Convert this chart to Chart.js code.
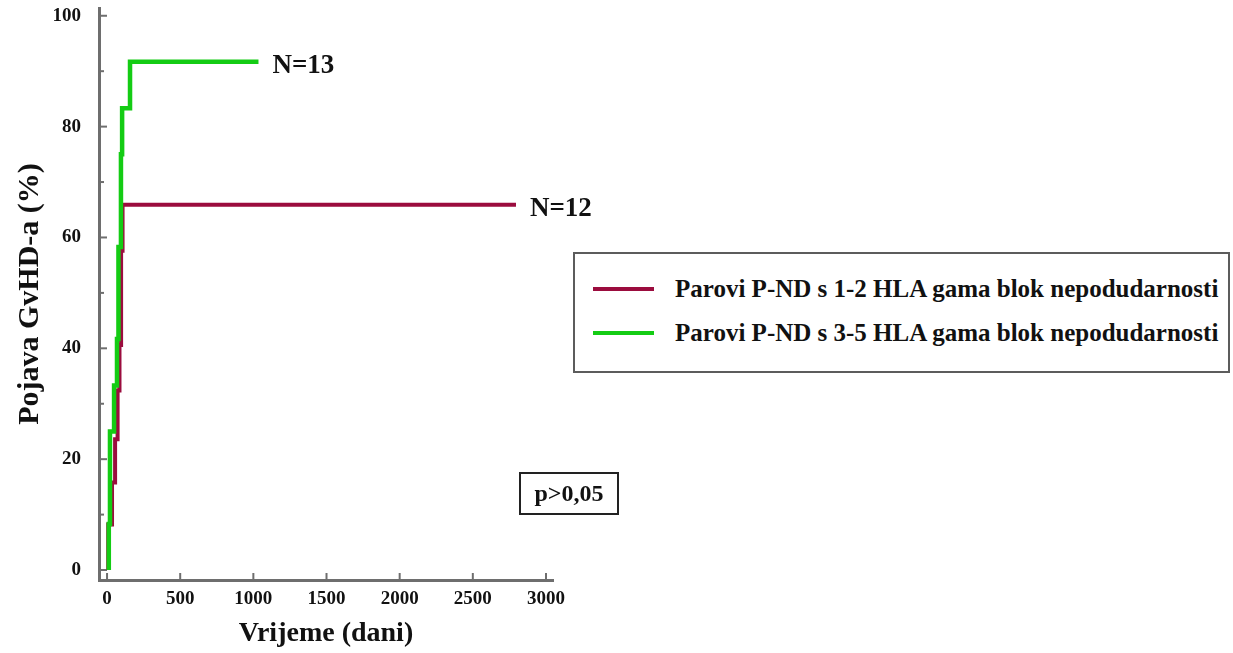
<!DOCTYPE html>
<html>
<head>
<meta charset="utf-8">
<script src="https://cdn.jsdelivr.net/npm/chart.js@4.4.1/dist/chart.umd.min.js"></script>
<style>
body { margin: 0; background: #fff; width: 1233px; height: 653px; overflow: hidden; position: relative;
	font-family: "Liberation Serif", "Times New Roman", serif; font-weight: bold; color: #111; }
#wrap { position: absolute; left: 0; top: 0; width: 620px; height: 653px; }
.legend { position: absolute; left: 573px; top: 252px; width: 653px; height: 117px; border: 2px solid #5c5c5c; background: #fff; }
.legend .row { position: absolute; left: 0; height: 30px; width: 100%; }
.legend .swatch { position: absolute; left: 18px; top: 13px; width: 61px; height: 4px; }
.legend .label { position: absolute; left: 100px; top: 0; font-size: 25px; line-height: 30px; white-space: nowrap; }
.pbox { position: absolute; left: 519px; top: 472px; width: 96px; height: 39px; border: 2px solid #222;
	font-size: 24px; line-height: 39px; text-align: center; }
</style>
</head>
<body>
<div id="wrap"><canvas id="gvhd-chart"></canvas></div>

<div class="legend" id="legend"></div>
<div class="pbox">p&gt;0,05</div>

<script>
// KM-style cumulative incidence
const lowDays = [8, 8, 34, 55, 72, 85, 96, 106, 2795];
const lowValues = [0, 8.2, 15.8, 23.6, 32.4, 40.6, 57.6, 65.9, 65.9];

const highDays = [12, 12, 20, 48, 68, 78, 95, 103, 157, 1035];
const highValues = [0, 8.3, 25, 33.3, 41.7, 58.3, 75, 83.3, 91.7, 91.7];

const seriesNames = [
	"Parovi P-ND s 1-2 HLA gama blok nepodudarnosti",
	"Parovi P-ND s 3-5 HLA gama blok nepodudarnosti"
];
const seriesN = ["N=12", "N=13"];
const seriesColors = ["#9b0c3e", "#14cc14"];

const xTicks = [0, 500, 1000, 1500, 2000, 2500, 3000];
const yTicks = [0, 20, 40, 60, 80, 100];
const yMinorTicks = [10, 30, 50, 70, 90];

const axisColor = "#6e6e6e";
const serif = "'Liberation Serif', 'Times New Roman', serif";

function toPoints(days, values) {
	return days.map((d, i) => ({ x: d, y: values[i] }));
}

// inward tick marks, drawn off the library's scales
const tickMarks = {
	id: "tickMarks",
	beforeDatasetsDraw(chart) {
		const { ctx, chartArea, scales } = chart;
		ctx.save();
		ctx.strokeStyle = axisColor;
		ctx.lineWidth = 2;
		yTicks.concat(yMinorTicks).forEach((v) => {
			const y = scales.y.getPixelForValue(v);
			const len = yTicks.includes(v) ? 8 : 5;
			ctx.beginPath();
			ctx.moveTo(chartArea.left, y);
			ctx.lineTo(chartArea.left + len, y);
			ctx.stroke();
		});
		xTicks.forEach((v) => {
			const x = scales.x.getPixelForValue(v);
			ctx.beginPath();
			ctx.moveTo(x, chartArea.bottom);
			ctx.lineTo(x, chartArea.bottom - 7);
			ctx.stroke();
		});
		ctx.restore();
	}
};

// "N=.." at the end of each curve
const endLabels = {
	id: "endLabels",
	afterDatasetsDraw(chart) {
		const { ctx, scales } = chart;
		ctx.save();
		ctx.font = `bold 27px ${serif}`;
		ctx.fillStyle = "#111";
		ctx.textBaseline = "middle";
		chart.data.datasets.forEach((ds) => {
			const last = ds.data[ds.data.length - 1];
			const x = scales.x.getPixelForValue(last.x);
			const y = scales.y.getPixelForValue(last.y);
			ctx.fillText(ds.nLabel, x + 14, y + 4);
		});
		ctx.restore();
	}
};

function buildLegend() {
	const legend = document.getElementById("legend");
	seriesNames.forEach((name, i) => {
		const row = document.createElement("div");
		row.className = "row";
		row.style.top = `${20 + i * 44}px`;
		row.innerHTML = `<div class="swatch" style="background:${seriesColors[i]}"></div><div class="label">${name}</div>`;
		legend.appendChild(row);
	});
}

function initChart() {
	const canvas = document.getElementById("gvhd-chart");
	canvas.width = 620;
	canvas.height = 653;

	new Chart(canvas, {
		type: "line",
		data: {
			datasets: [
				{
					label: seriesNames[1],
					nLabel: seriesN[1],
					data: toPoints(highDays, highValues),
					borderColor: seriesColors[1],
					borderWidth: 4.5,
					stepped: "before",
					pointRadius: 0,
					fill: false
				},
				{
					label: seriesNames[0],
					nLabel: seriesN[0],
					data: toPoints(lowDays, lowValues),
					borderColor: seriesColors[0],
					borderWidth: 4,
					stepped: "before",
					pointRadius: 0,
					fill: false
				}
			]
		},
		options: {
			responsive: false,
			animation: false,
			layout: { padding: { top: 8, right: 67, left: 0, bottom: 0 } },
			plugins: {
				legend: { display: false },
				tooltip: { enabled: false }
			},
			scales: {
				x: {
					type: "linear",
					min: -55,
					max: 3048,
					afterBuildTicks: (scale) => { scale.ticks = xTicks.map((v) => ({ value: v })); },
					afterFit: (scale) => {
						scale.height = 73;
						scale.paddingLeft = 0;
						scale.paddingRight = 0;
					},
					grid: { display: false, drawTicks: false },
					border: { display: true, color: axisColor, width: 3 },
					ticks: {
						color: "#111",
						padding: 8,
						font: { family: serif, size: 19, weight: "bold" },
						callback: (v) => String(v)
					},
					title: {
						display: true,
						text: "Vrijeme (dani)",
						color: "#111",
						padding: { top: 0, bottom: 2 },
						font: { family: serif, size: 28, weight: "bold" }
					}
				},
				y: {
					type: "linear",
					min: -1.8,
					max: 101.4,
					afterBuildTicks: (scale) => { scale.ticks = yTicks.map((v) => ({ value: v })); },
					afterFit: (scale) => {
						scale.width = 99;
						scale.paddingTop = 0;
						scale.paddingBottom = 0;
					},
					grid: { display: false, drawTicks: false },
					border: { display: true, color: axisColor, width: 3 },
					ticks: {
						color: "#111",
						padding: 18,
						font: { family: serif, size: 19, weight: "bold" },
						callback: (v) => String(v)
					},
					title: {
						display: true,
						text: "Pojava GvHD-a (%)",
						color: "#111",
						padding: { top: 12, bottom: 0 },
						font: { family: serif, size: 30, weight: "bold" }
					}
				}
			}
		},
		plugins: [tickMarks, endLabels]
	});
}

buildLegend();
initChart();
</script>
</body>
</html>
